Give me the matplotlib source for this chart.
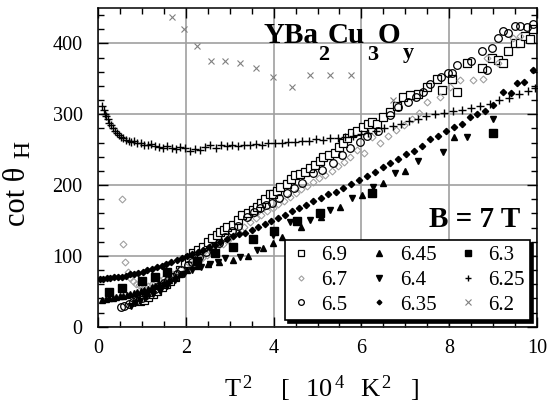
import numpy as np
import matplotlib
matplotlib.use("Agg")
import matplotlib.pyplot as plt

plt.rcParams['font.family'] = ['Liberation Serif', 'DejaVu Serif']
plt.rcParams['mathtext.fontset'] = 'custom'
plt.rcParams['mathtext.rm'] = 'Liberation Serif'
plt.rcParams['mathtext.it'] = 'Liberation Serif:italic'
plt.rcParams['mathtext.bf'] = 'Liberation Serif:bold'

# x = T^2 [10^4 K^2], y = cot theta_H
x69 = [0.95, 1.05, 1.15, 1.25, 1.35, 1.45, 1.55, 1.65, 1.75, 1.87, 1.98, 2.08, 2.16, 2.27, 2.39,
       2.50, 2.60, 2.70, 2.78, 2.86, 2.94, 3.08, 3.18, 3.28, 3.42, 3.52, 3.62, 3.72, 3.80, 3.92,
       3.99, 4.07, 4.15, 4.30, 4.40, 4.49, 4.60, 4.72, 4.83, 4.94, 5.05, 5.13, 5.26, 5.40, 5.49,
       5.58, 5.68, 5.79, 5.90, 6.04, 6.15, 6.25, 6.36, 6.50, 6.65, 6.80, 6.95, 7.10, 7.29, 7.50,
       7.72, 7.84, 8.06, 8.18, 8.41, 8.75, 8.97, 9.11, 9.23, 9.34, 9.50, 9.61, 9.73, 9.84, 9.91]
y69 = [36, 38, 42, 46, 50, 56, 60, 65, 70, 80, 90, 97, 104, 108, 113,
       120, 125, 130, 134, 137, 141, 144, 151, 158, 161, 165, 169, 175, 181, 187,
       188, 192, 197, 202, 208, 214, 216, 218, 224, 228, 234, 240, 243, 246, 254,
       259, 266, 273, 276, 282, 287, 289, 287, 296, 303, 312, 324, 327, 329, 338,
       350, 334, 350, 331, 372, 366, 379, 376, 373, 390, 400, 400, 411, 407, 421]

x67 = [0.55, 0.57, 0.62, 0.68, 0.74, 0.80, 0.86, 0.93, 1.00, 1.07, 1.14, 1.22, 1.30, 1.40, 1.50,
       1.60, 1.70, 1.80, 1.90, 2.00, 2.12, 2.24, 2.36, 2.48, 2.60, 2.72, 2.84, 2.96, 3.08, 3.20,
       3.33, 3.46, 3.59, 3.72, 3.85, 3.98, 4.11, 4.24, 4.37, 4.50, 4.63, 4.76, 4.90, 5.04, 5.18,
       5.32, 5.46, 5.60, 5.75, 5.90, 6.05, 6.24, 6.42, 6.60, 6.78, 6.96, 7.15, 7.32, 7.49, 7.79,
       8.02, 8.25, 8.54, 8.77, 8.86, 9.10, 9.45, 9.61]
y67 = [180, 117, 92, 78, 69, 64, 61, 59, 57, 56, 58, 60, 62, 66, 69,
       72, 75, 78, 81, 84, 88, 93, 97, 102, 107, 112, 117, 123, 128, 134,
       141, 148, 154, 158, 163, 168, 173, 178, 183, 189, 195, 199, 205, 210, 215,
       220, 227, 233, 240, 249, 246, 268, 259, 270, 278, 285, 294, 302, 317, 324,
       338, 348, 348, 350, 379, 372, 408, 411]

x65 = [0.52, 0.60, 0.70, 0.80, 0.90, 1.00, 1.10, 1.20, 1.30, 1.40, 1.50, 1.60, 1.70, 1.80, 1.90,
       2.05, 2.15, 2.30, 2.45, 2.60, 2.75, 2.90, 3.05, 3.20, 3.39, 3.55, 3.69, 3.83, 3.96, 4.12,
       4.30, 4.47, 4.65, 4.90, 5.10, 5.35, 5.55, 5.74, 5.97, 6.13, 6.38, 6.65, 6.83, 7.05, 7.25,
       7.40, 7.56, 7.80, 7.97, 8.06, 8.18, 8.50, 8.75, 8.86, 8.97, 9.11, 9.23, 9.34, 9.50, 9.61,
       9.77, 9.91]
y65 = [28, 30, 32, 35, 38, 41, 45, 49, 53, 58, 62, 66, 70, 75, 80,
       87, 92, 98, 105, 112, 119, 127, 135, 143, 155, 162, 168, 172, 175, 182,
       189, 196, 203, 217, 222, 231, 242, 252, 261, 270, 277, 299, 310, 318, 325,
       331, 343, 352, 359, 359, 369, 375, 390, 362, 393, 408, 418, 415, 424, 424,
       423, 427]

x645 = [0.10, 0.18, 0.26, 0.34, 0.42, 0.50, 0.58, 0.66, 0.74, 0.82, 0.90, 0.98, 1.06, 1.14, 1.22,
        1.30, 1.40, 1.50, 1.62, 1.75, 1.88, 2.03, 2.25, 2.50, 2.75, 3.07, 3.42, 3.76, 3.99, 4.20,
        4.62, 5.08, 5.51, 6.01, 6.49, 7.00, 8.10]
y645 = [38, 39, 40, 41, 42, 43, 44, 45, 46, 48, 49, 51, 52, 54, 56,
        58, 60, 62, 66, 70, 74, 80, 86, 89, 92, 94, 100, 111, 118, 127,
        141, 155, 169, 186, 203, 220, 268]

x64 = [0.75, 0.85, 0.95, 1.10, 1.25, 1.41, 1.57, 1.75, 1.95, 2.15, 2.35, 2.55, 2.73, 2.89, 3.23,
       3.62, 3.99, 4.37, 4.83, 5.28, 5.79, 6.26, 6.77, 7.29, 7.86, 8.41, 8.99]
y64 = [30, 33, 37, 42, 46, 50, 58, 66, 74, 80, 85, 89, 92, 97, 99,
       108, 130, 148, 151, 165, 182, 197, 217, 234, 247, 268, 294]

x635 = [0.05, 0.12, 0.20, 0.28, 0.36, 0.45, 0.54, 0.63, 0.72, 0.82, 0.92, 1.02, 1.12, 1.23, 1.34,
        1.45, 1.56, 1.67, 1.79, 1.91, 2.03, 2.15, 2.27, 2.40, 2.53, 2.66, 2.79, 2.93, 3.07, 3.21,
        3.35, 3.50, 3.65, 3.80, 3.95, 4.10, 4.26, 4.42, 4.58, 4.74, 4.90, 5.07, 5.24, 5.41, 5.58,
        5.76, 5.94, 6.12, 6.30, 6.48, 6.66, 6.84, 7.02, 7.20, 7.38, 7.56, 7.74, 7.92, 8.10, 8.28,
        8.46, 8.64, 8.82, 9.00, 9.23, 9.40, 9.55, 9.70, 9.91]
y635 = [68, 68, 69, 69, 70, 71, 71, 72, 74, 75, 76, 78, 80, 82, 84,
        86, 88, 91, 94, 97, 100, 103, 106, 109, 113, 116, 120, 124, 128, 131,
        133, 137, 141, 145, 150, 154, 158, 163, 168, 172, 177, 182, 187, 191, 196,
        202, 207, 213, 219, 226, 231, 237, 244, 248, 255, 265, 270, 276, 282, 287,
        296, 300, 305, 313, 331, 330, 344, 345, 362]

x63 = [0.25, 0.55, 1.00, 1.30, 1.57, 2.26, 2.67, 3.07, 3.53, 4.00, 4.53, 5.06, 6.24, 9.00]
y63 = [49, 55, 64, 71, 77, 93, 104, 112, 124, 135, 149, 160, 189, 274]

x625 = [0.10, 0.13, 0.16, 0.19, 0.22, 0.26, 0.30, 0.34, 0.38, 0.43, 0.48, 0.53, 0.58, 0.64, 0.70,
        0.76, 0.83, 0.90, 0.97, 1.05, 1.13, 1.21, 1.30, 1.39, 1.48, 1.58, 1.68, 1.78, 1.88, 1.99,
        2.10, 2.21, 2.32, 2.44, 2.56, 2.68, 2.80, 2.93, 3.06, 3.19, 3.32, 3.46, 3.60, 3.74, 3.88,
        4.03, 4.18, 4.33, 4.48, 4.64, 4.80, 4.96, 5.12, 5.29, 5.46, 5.63, 5.80, 5.98, 6.16, 6.34,
        6.52, 6.71, 6.90, 7.09, 7.28, 7.48, 7.68, 7.88, 8.08, 8.29, 8.50, 8.71, 8.92, 9.14, 9.36,
        9.58, 9.80, 9.95]
y625 = [312, 306, 301, 297, 293, 288, 285, 281, 277, 274, 271, 268, 266, 264, 263,
        261, 262, 259, 260, 257, 256, 258, 255, 254, 253, 255, 253, 251, 254, 252,
        248, 251, 250, 254, 256, 252, 257, 255, 256, 255, 257, 256, 258, 257, 259,
        260, 259, 261, 261, 262, 263, 265, 264, 266, 267, 268, 270, 272, 274, 277,
        280, 283, 286, 290, 293, 297, 300, 302, 304, 306, 309, 312, 315, 320, 323,
        328, 333, 337]

x62 = [1.69, 1.96, 2.26, 2.57, 2.89, 3.23, 3.60, 3.99, 4.42, 4.83, 5.28, 5.76, 6.72]
y62 = [437, 420, 396, 375, 375, 372, 365, 352, 339, 356, 356, 356, 320]

fig = plt.figure(figsize=(5.47, 4.03), dpi=100)
ax = fig.add_axes([0.179, 0.189, 0.803, 0.791])

ax.grid(True, which='major', color='#a0a0a0', lw=1.2, zorder=0)
ax.set_axisbelow(True)

ax.plot(x69, y69, ls='none', marker='s', ms=5.5, mfc='white', mec='black', mew=0.9, label='6.9')
ax.plot(x67, y67, ls='none', marker='D', ms=3.5, mfc='none', mec='#a0a0a0', mew=0.8, label='6.7')
ax.plot(x65, y65, ls='none', marker='o', ms=5.5, mfc='none', mec='black', mew=0.9, label='6.5')
ax.plot(x645, y645, ls='none', marker='^', ms=5, color='black', label='6.45')
ax.plot(x64, y64, ls='none', marker='v', ms=5, color='black', label='6.4')
ax.plot(x635, y635, ls='none', marker='D', ms=3.2, color='black', label='6.35')
ax.plot(x63, y63, ls='none', marker='s', ms=5.5, color='black', label='6.3')
ax.plot(x625, y625, ls='none', marker='+', ms=6, mew=1.0, color='black', label='6.25')
ax.plot(x62, y62, ls='none', marker='x', ms=5, mew=0.8, color='#808080', label='6.2')

ax.set_xlim(0, 10)
ax.set_ylim(0, 450)
ax.set_xticks([0, 2, 4, 6, 8, 10])
ax.set_yticks([0, 100, 200, 300, 400])
ax.set_xticks(np.arange(0, 10.01, 0.5), minor=True)
ax.set_yticks(np.arange(0, 450.1, 20), minor=True)
ax.tick_params(which='both', direction='in', top=True, right=True, labelsize=14.5, colors='black')
ax.tick_params(which='major', length=7, width=1)
ax.tick_params(which='minor', length=4, width=1)
ax.tick_params(axis='x', pad=9)
ax.tick_params(axis='y', pad=11)
for s in ax.spines.values():
    s.set_linewidth(1.1)

# x label, wide spacing as in the original
ax.set_xlabel(r'$\mathrm{T^{\,2}\quad\ \,[\ \ \,10^{\,4}\ \ \,K^{\,2}\ \ \ ]}$', fontsize=19)
ax.xaxis.set_label_coords(0.51, -0.145)

# y label: "cot θ" with a large, low subscript H
ax.text(-0.183, 0.41, 'cot θ', transform=ax.transAxes, rotation=90, fontsize=22,
        ha='center', va='center')
ax.text(-0.168, 0.557, 'H', transform=ax.transAxes, rotation=90, fontsize=17,
        ha='center', va='center')

# formula with big, deeply dropped subscripts
title_parts = [('YBa', 3.76, 400, 21), ('2', 5.02, 376, 16), ('Cu', 5.24, 400, 21),
               ('3', 6.13, 376, 16), ('O', 6.36, 400, 21), ('y', 6.95, 379, 16)]
for s, tx, ty, size in title_parts:
    ax.text(tx, ty, s, fontsize=size, fontweight='bold', ha='left', va='baseline')

ax.text(9.61, 141, 'B = 7 T', fontsize=21, fontweight='bold', ha='right', va='baseline')

leg = ax.legend(ncol=3, loc='lower right', bbox_to_anchor=(0.984, 0.022), borderaxespad=0,
                fontsize=15, frameon=True, fancybox=False, edgecolor='black',
                shadow={'color': 'black', 'alpha': 1}, handlelength=1.0, handletextpad=0.5,
                columnspacing=1.0, labelspacing=0.25, borderpad=0.25, markerscale=0.75)
leg.get_frame().set_linewidth(1.2)

fig.savefig('out.png', dpi=100)
